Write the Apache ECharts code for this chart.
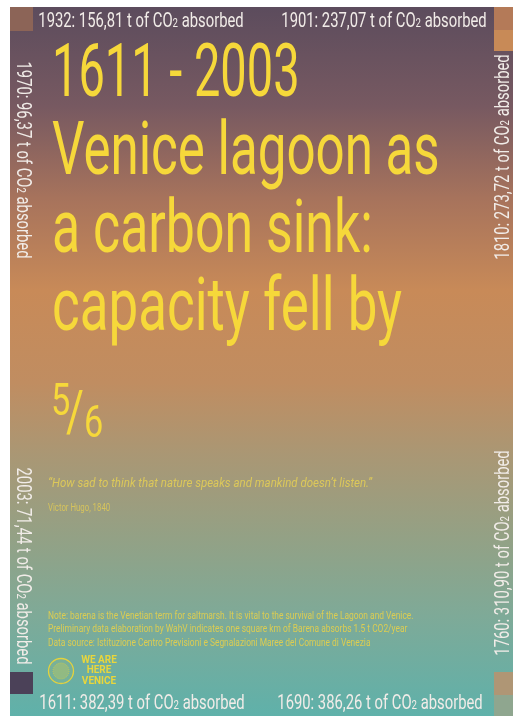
<!DOCTYPE html>
<html>
<head>
<meta charset="utf-8">
<title>Venice lagoon as a carbon sink</title>
<script src="https://cdn.jsdelivr.net/npm/echarts@6/dist/echarts.min.js"></script>
<style>
  html, body { margin: 0; padding: 0; background: #ffffff; }
  #chart { width: 513px; height: 716px; }
</style>
</head>
<body>
<div id="chart"></div>
<script>
// dati: anno e tonnellate di CO2 assorbite dalle barene
const years = [1611, 1690, 1760, 1810, 1901, 1932, 1970, 2003]
const absorbed = [382.39, 386.26, 310.90, 273.72, 237.07, 156.81, 96.37, 71.44]

// testi
const titleLines = ['1611 - 2003', 'Venice lagoon as', 'a carbon sink:', 'capacity fell by']
const fraction = ['5', '6']
const quote = '\u201cHow sad to think that nature speaks and mankind doesn\u2019t listen.\u201d'
const quoteAuthor = 'Victor Hugo, 1840'
const notes = [
  'Note: barena is the Venetian term for saltmarsh. It is vital to the survival of the Lagoon and Venice.',
  'Preliminary data elaboration by WahV indicates one square km of Barena absorbs 1.5 t CO2/year',
  'Data source: Istituzione Centro Previsioni e Segnalazioni Maree del Comune di Venezia'
]
const logoLines = ['WE ARE', 'HERE', 'VENICE']

// quadratini colorati agli angoli
const cornerColors = ['#8c6457', '#b47a58', '#c88a57', '#4b4158', '#af9675', '#8fa68f']

const FONT = 'Roboto, "DejaVu Sans", sans-serif'
const YELLOW = '#f6d83a'
const LABEL = '#f1ece8'

const chart = echarts.init(document.getElementById('chart'), null, { renderer: 'canvas' })

// posizione delle etichette lungo la cornice (in senso antiorario dal basso a sinistra)
const labelPos = [
  { x: 142, y: 704, r: 0 },
  { x: 380, y: 704, r: 0 },
  { x: 504, y: 553, r: Math.PI / 2 },
  { x: 504, y: 157, r: Math.PI / 2 },
  { x: 384, y: 22, r: 0 },
  { x: 141, y: 22, r: 0 },
  { x: 22, y: 160, r: -Math.PI / 2 },
  { x: 22, y: 566, r: -Math.PI / 2 }
]

const fmt = (v) => v.toFixed(2).replace('.', ',')

const frameLabels = years.map((y, i) => ({
  type: 'text',
  x: labelPos[i].x,
  y: labelPos[i].y,
  rotation: labelPos[i].r,
  scaleX: 0.74,
  z: 10,
  style: {
    text: '{n|' + y + ': ' + fmt(absorbed[i]) + ' t of CO}{s|2}{n| absorbed}',
    align: 'center',
    verticalAlign: 'middle',
    rich: {
      n: { fontFamily: FONT, fontSize: 20, lineHeight: 22, fill: LABEL },
      s: { fontFamily: FONT, fontSize: 13, lineHeight: 22, fill: LABEL, verticalAlign: 'bottom', padding: [0, 0, 3, 0] }
    }
  }
}))

// compressione orizzontale di ogni riga del titolo
const titleScale = [0.635, 0.69, 0.70, 0.715]

const titleTexts = titleLines.map((t, i) => ({
  type: 'text',
  x: 52,
  y: 77 + i * 78,
  scaleX: titleScale[i],
  z: 10,
  style: {
    text: t,
    fontFamily: FONT,
    fontSize: 74,
    fill: YELLOW,
    align: 'left',
    verticalAlign: 'middle'
  }
}))

const fractionTexts = [
  { type: 'text', x: 51, y: 404, scaleX: 0.78, z: 10,
    style: { text: fraction[0], fontFamily: FONT, fontSize: 44, fill: YELLOW, align: 'left', verticalAlign: 'middle' } },
  { type: 'text', x: 66, y: 416, scaleX: 0.75, z: 10,
    style: { text: '/', fontFamily: FONT, fontSize: 58, fill: YELLOW, align: 'left', verticalAlign: 'middle' } },
  { type: 'text', x: 84, y: 426, scaleX: 0.78, z: 10,
    style: { text: fraction[1], fontFamily: FONT, fontSize: 44, fill: YELLOW, align: 'left', verticalAlign: 'middle' } }
]

const noteTexts = notes.map((t, i) => ({
  type: 'text',
  x: 48,
  y: 616 + i * 13.5,
  scaleX: 0.84,
  z: 10,
  style: { text: t, fontFamily: FONT, fontSize: 10, fill: '#dccd52', align: 'left', verticalAlign: 'middle' }
}))

const logoTexts = logoLines.map((t, i) => ({
  type: 'text',
  x: 99,
  y: 660 + i * 10.5,
  z: 10,
  style: { text: t, fontFamily: FONT, fontSize: 10, fontWeight: 'bold', fill: '#e8d63c', align: 'center', verticalAlign: 'middle' }
}))

const corners = [
  [10, 7, 23, 24, cornerColors[0]],
  [494, 7, 19, 23, cornerColors[1]],
  [494, 30, 19, 21, cornerColors[2]],
  [10, 672, 23, 22, cornerColors[3]],
  [494, 672, 19, 23, cornerColors[4]],
  [494, 695, 19, 21, cornerColors[5]]
].map(c => ({
  type: 'rect',
  shape: { x: c[0], y: c[1], width: c[2], height: c[3] },
  z: 5,
  style: { fill: c[4] }
}))

const option = {
  backgroundColor: '#ffffff',
  animation: false,
  graphic: [
    {
      type: 'rect',
      shape: { x: 10, y: 7, width: 503, height: 709 },
      z: 1,
      style: {
        fill: {
          type: 'linear', x: 0, y: 0, x2: 0, y2: 1,
          colorStops: [
            { offset: 0, color: '#5c4c5d' },
            { offset: 0.14, color: '#775961' },
            { offset: 0.27, color: '#a7735c' },
            { offset: 0.40, color: '#c88a58' },
            { offset: 0.53, color: '#c08d61' },
            { offset: 0.63, color: '#aa9774' },
            { offset: 0.76, color: '#91a287' },
            { offset: 0.86, color: '#7eaa98' },
            { offset: 1, color: '#5fb1aa' }
          ]
        }
      }
    },
    ...corners,
    ...frameLabels,
    ...titleTexts,
    ...fractionTexts,
    {
      type: 'text', x: 48, y: 484, scaleX: 0.885, z: 10,
      style: { text: quote, fontFamily: FONT, fontSize: 13, fontStyle: 'italic', fill: '#dcc85a', align: 'left', verticalAlign: 'middle' }
    },
    {
      type: 'text', x: 48, y: 508, scaleX: 0.78, z: 10,
      style: { text: quoteAuthor, fontFamily: FONT, fontSize: 10, fill: '#d6c35c', align: 'left', verticalAlign: 'middle' }
    },
    ...noteTexts,
    // logo
    {
      type: 'circle', z: 10,
      shape: { cx: 61, cy: 671, r: 12.5 },
      style: { fill: 'rgba(230,214,60,0.08)', stroke: '#e3d23e', lineWidth: 1.3 }
    },
    {
      type: 'circle', z: 10,
      shape: { cx: 61, cy: 671, r: 8 },
      style: { fill: 'rgba(230,214,60,0.25)', stroke: '#e3d23e', lineWidth: 0.6, lineDash: [1, 1] }
    },
    ...logoTexts
  ]
}

chart.setOption(option)
window.addEventListener('resize', () => chart.resize())
</script>
</body>
</html>
